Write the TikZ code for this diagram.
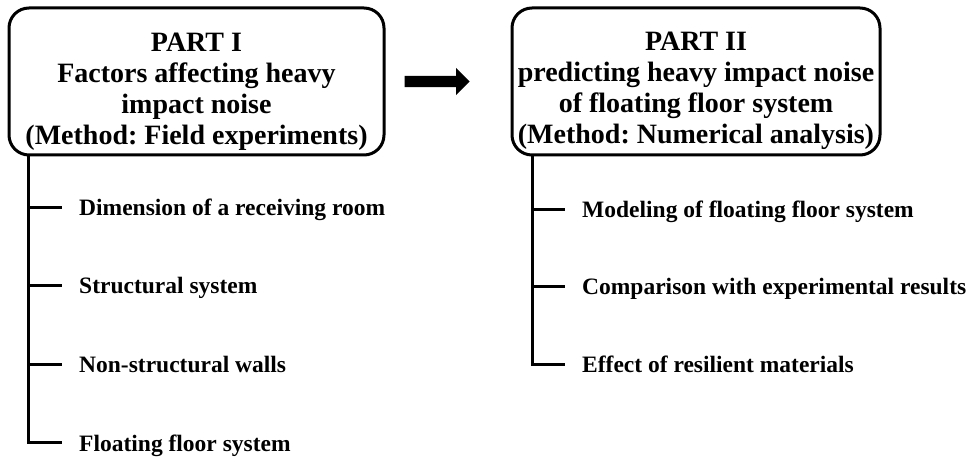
\documentclass[tikz,border=0pt]{standalone}
\usepackage{fontspec}
\setmainfont{Liberation Serif}
\usetikzlibrary{shapes.arrows,positioning}
\frenchspacing

\begin{document}
\begin{tikzpicture}[x=1pt,y=-1pt,
  partbox/.style={draw, line width=3pt, rounded corners=20pt, minimum height=147pt,
    align=center, inner sep=0pt, font=\bfseries\fontsize{28}{31}\selectfont},
  item/.style={anchor=west, inner sep=0pt, text height=16pt, text depth=0pt,
    font=\bfseries\fontsize{23.5}{27}\selectfont},
  tree/.style={line width=3pt}]

\useasboundingbox (0,0) rectangle (970,462);

% the two parts
\node[partbox, minimum width=375pt] (part1) at (196.5,81.5)
  {\rule{0pt}{38pt}PART I\\Factors affecting heavy\\impact noise\\(Method: Field experiments)};
\node[partbox, minimum width=368pt] (part2) at (696,81.5)
  {\rule{0pt}{38pt}PART II\\predicting heavy impact noise\\of floating floor system\\(Method: Numerical analysis)};

\node[single arrow, fill=black, inner sep=0pt, text height=5.5pt, text depth=5.5pt,
  minimum height=65pt, single arrow head extend=8pt, right=19pt of part1] (go) {};

% items of part I
\node[item] (dim) at (79,208) {Dimension of a receiving room};
\node[item] (str) at (79,286) {Structural system};
\node[item] (non) at (79,365) {Non-structural walls};
\node[item] (flo) at (79,443) {Floating floor system};

% items of part II
\node[item] (mod) at (582,210) {Modeling of floating floor system};
\node[item] (com) at (582,287) {Comparison with experimental results};
\node[item] (eff) at (582,365) {Effect of resilient materials};

\coordinate (trunk1) at (28,0);
\coordinate (trunk2) at (532,0);

\draw[tree] (trunk1 |- part1.south) |- ([xshift=-17pt]flo.west);
\foreach \n in {dim,str,non}
  \draw[tree] (trunk1 |- \n.west) -- ([xshift=-17pt]\n.west);

\draw[tree] (trunk2 |- part2.south) |- ([xshift=-17pt]eff.west);
\foreach \n in {mod,com}
  \draw[tree] (trunk2 |- \n.west) -- ([xshift=-17pt]\n.west);

\end{tikzpicture}
\end{document}
